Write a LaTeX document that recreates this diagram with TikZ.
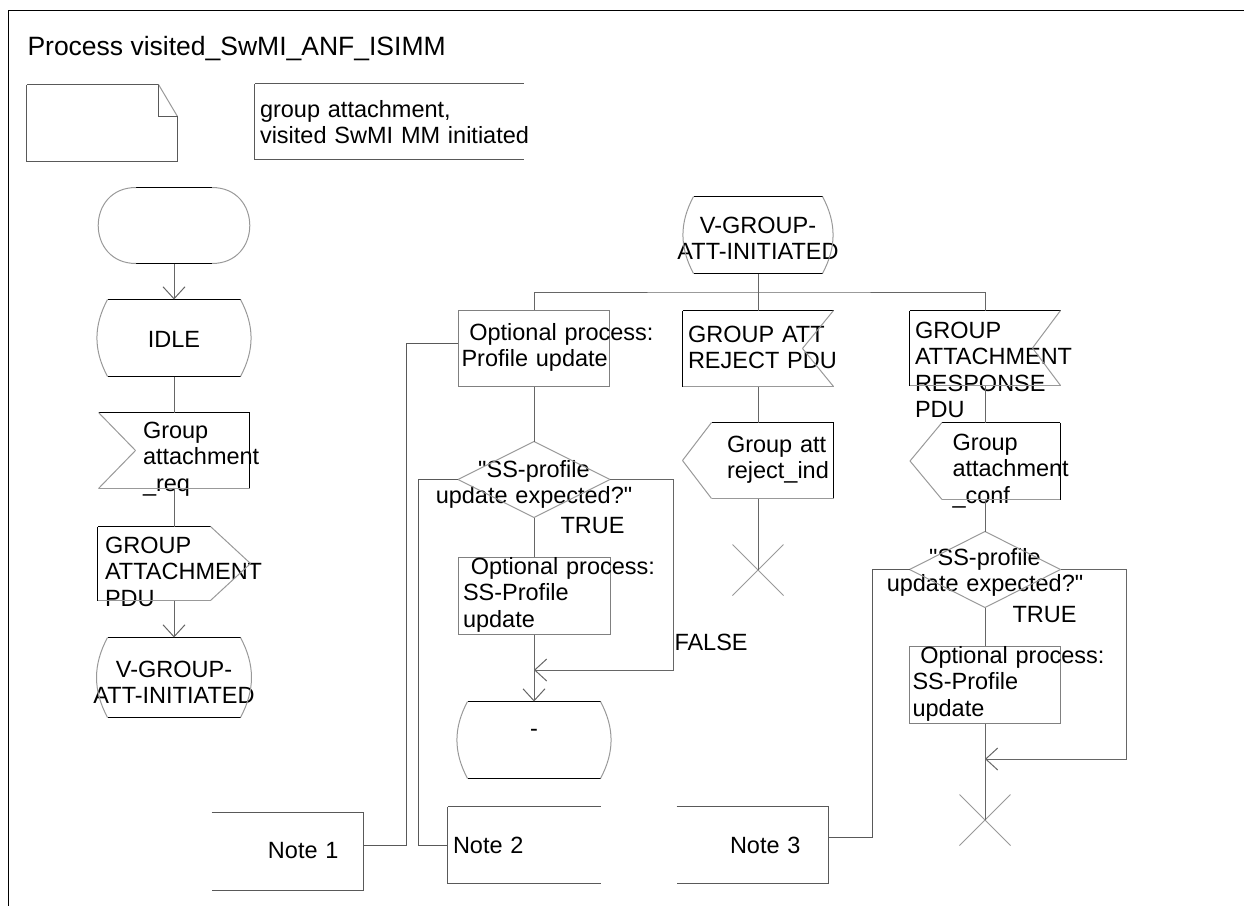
\documentclass[tikz,border=0pt]{standalone}
\usepackage{fontspec}
\setmainfont{Liberation Sans}
\usetikzlibrary{arrows.meta}

\begin{document}
\begin{tikzpicture}[
  x=0.5pt, y=-0.5pt,
  line width=0.5pt,
  font=\fontsize{11.75}{13.25}\selectfont,
  outline/.style={draw=black},
  soft/.style={draw=black!40},
  comm/.style={draw=black!65},
  conn/.style={draw=black!60},
  arrow/.style={conn, -{Straight Barb[length=6pt, width=11pt]}},
  lbl/.style={anchor=base west, inner sep=0pt},
  sym/.style={rectangle, inner sep=0pt, text width=#1},
  lefttext/.style={align=left, execute at begin node={\leftskip=#1\rightskip=-3cm plus 1fil\relax}},
  midtext/.style={align=center, execute at begin node={\leftskip=-3cm plus 1fil\rightskip=-3cm plus 1fil\relax}},
  startsym/.style={rectangle, inner sep=0pt, minimum width=37.5pt, minimum height=37.5pt, append after command={
    (\tikzlastnode.north west) edge[outline] (\tikzlastnode.north east)
    (\tikzlastnode.south west) edge[outline] (\tikzlastnode.south east)
    (\tikzlastnode.north west) edge[soft, bend right=90, looseness=1.7] (\tikzlastnode.south west)
    (\tikzlastnode.north east) edge[soft, bend left=90, looseness=1.7] (\tikzlastnode.south east)}},
  state/.style={midtext, append after command={
    (\tikzlastnode.north west) edge[outline] (\tikzlastnode.north east)
    (\tikzlastnode.south west) edge[outline] (\tikzlastnode.south east)
    (\tikzlastnode.north west) edge[soft, bend right=28] (\tikzlastnode.south west)
    (\tikzlastnode.north east) edge[soft, bend left=28] (\tikzlastnode.south east)}},
  inputl/.style={append after command={
    (\tikzlastnode.north west) edge[outline] (\tikzlastnode.north east)
    (\tikzlastnode.north east) edge[outline] (\tikzlastnode.south east)
    (\tikzlastnode.south east) edge[soft] (\tikzlastnode.south west)
    (\tikzlastnode.north west) edge[soft] ([xshift=#1]\tikzlastnode.west)
    ([xshift=#1]\tikzlastnode.west) edge[soft] (\tikzlastnode.south west)}},
  inputr/.style={append after command={
    (\tikzlastnode.north west) edge[outline] (\tikzlastnode.north east)
    (\tikzlastnode.north east) edge[soft] ([xshift=-#1]\tikzlastnode.east)
    ([xshift=-#1]\tikzlastnode.east) edge[soft] (\tikzlastnode.south east)
    (\tikzlastnode.south east) edge[soft] (\tikzlastnode.south west)
    (\tikzlastnode.south west) edge[outline] (\tikzlastnode.north west)}},
  outputr/.style={append after command={
    (\tikzlastnode.north west) edge[outline] ([xshift=-#1]\tikzlastnode.north east)
    ([xshift=-#1]\tikzlastnode.north east) edge[soft] (\tikzlastnode.east)
    (\tikzlastnode.east) edge[soft] ([xshift=-#1]\tikzlastnode.south east)
    ([xshift=-#1]\tikzlastnode.south east) edge[soft] (\tikzlastnode.south west)
    (\tikzlastnode.south west) edge[outline] (\tikzlastnode.north west)}},
  outputl/.style={append after command={
    ([xshift=#1]\tikzlastnode.north west) edge[outline] (\tikzlastnode.north east)
    (\tikzlastnode.north east) edge[outline] (\tikzlastnode.south east)
    (\tikzlastnode.south east) edge[soft] ([xshift=#1]\tikzlastnode.south west)
    ([xshift=#1]\tikzlastnode.south west) edge[soft] (\tikzlastnode.west)
    (\tikzlastnode.west) edge[soft] ([xshift=#1]\tikzlastnode.north west)}},
  decision/.style={midtext, append after command={
    (\tikzlastnode.north) edge[soft] (\tikzlastnode.west)
    (\tikzlastnode.west) edge[soft] (\tikzlastnode.south)
    (\tikzlastnode.south) edge[soft] (\tikzlastnode.east)
    (\tikzlastnode.east) edge[soft] (\tikzlastnode.north)}},
  task/.style={draw=black!50},
  notel/.style={append after command={
    (\tikzlastnode.north west) edge[comm] (\tikzlastnode.north east)
    (\tikzlastnode.north east) edge[comm] (\tikzlastnode.south east)
    (\tikzlastnode.south east) edge[comm] (\tikzlastnode.south west)}},
  noter/.style={append after command={
    (\tikzlastnode.north east) edge[comm] (\tikzlastnode.north west)
    (\tikzlastnode.north west) edge[comm] (\tikzlastnode.south west)
    (\tikzlastnode.south west) edge[comm] (\tikzlastnode.south east)}},
  docsym/.style={rectangle, inner sep=0pt, minimum width=75pt, minimum height=38pt, append after command={
    (\tikzlastnode.north west) edge[comm] ([xshift=-9.5pt]\tikzlastnode.north east)
    ([xshift=-9.5pt]\tikzlastnode.north east) edge[soft] ([yshift=-16pt]\tikzlastnode.north east)
    ([yshift=-16pt]\tikzlastnode.north east) edge[comm] (\tikzlastnode.south east)
    (\tikzlastnode.south east) edge[comm] (\tikzlastnode.south west)
    (\tikzlastnode.south west) edge[comm] (\tikzlastnode.north west)
    ([xshift=-9.5pt]\tikzlastnode.north east) edge[comm] ([xshift=-9.5pt, yshift=-16pt]\tikzlastnode.north east)
    ([xshift=-9.5pt, yshift=-16pt]\tikzlastnode.north east) edge[comm] ([yshift=-16pt]\tikzlastnode.north east)}},
  stopx/.style={rectangle, inner sep=0pt, minimum size=25pt, append after command={
    (\tikzlastnode.north west) edge[soft] (\tikzlastnode.south east)
    (\tikzlastnode.north east) edge[soft] (\tikzlastnode.south west)}}
]
\useasboundingbox (0,0) rectangle (1244,906);
\draw[outline] (1250,10) -- (8,10) -- (8,915);

\node[lbl, font=\fontsize{13.25}{15}\selectfont] (title) at (27,55) {Process visited\_SwMI\_ANF\_ISIMM};
\node[docsym] (doc) at (102,123) {};
\node[noter, sym=134pt, lefttext=2.5pt, text height=16.5pt, text depth=21pt] (cmt) at (389,121.5) {group attachment,\\visited SwMI MM initiated};

\node[startsym] (start) at (174,225.5) {};
\node[state, sym=66pt, text height=23.5pt, text depth=14.5pt] (idle) at (174,338) {IDLE};
\node[inputl=18.5pt, sym=75pt, lefttext=22pt, text height=12.5pt, text depth=25pt] (req) at (174,450.5) {Group\\attachment\\\_req};
\node[outputr=20pt, sym=76pt, lefttext=3.5pt, text height=13pt, text depth=23.5pt] (pdu) at (174,563.5) {GROUP\\ATTACHMENT\\PDU};
\node[state, sym=66pt, text height=19.5pt, text depth=20pt] (vleft) at (174,677.5) {V-GROUP-\\ATT-INITIATED};

\node[state, sym=64pt, text height=18pt, text depth=20pt] (vmid) at (758,235) {V-GROUP-\\ATT-INITIATED};
\coordinate (fork) at (758,292);

\node[task, sym=75.5pt, lefttext=1.5pt, text height=15pt, text depth=23pt] (prof) at (534,348) {\ Optional process:\\Profile update};
\node[decision, sym=75.5pt, text height=17.5pt, text depth=20pt] (dec1) at (534,479.5) {\textquotedbl SS-profile\\update expected?\textquotedbl};
\node[task, sym=76pt, lefttext=2.5pt, text height=8.5pt, text depth=30pt] (ss1) at (534,595.5) {\ Optional process:\\SS-Profile\\update};
\coordinate (merge1) at (534,670);
\coordinate (back1) at (673,670);
\node[state, sym=66pt, text height=17pt, text depth=21pt] (dash) at (534,740) {-};

\node[inputr=15.5pt, sym=75pt, lefttext=2.5pt, text height=15.5pt, text depth=22pt] (rej) at (758,348.5) {GROUP ATT\\REJECT PDU};
\node[outputl=14.5pt, sym=75pt, lefttext=22pt, text height=14.5pt, text depth=23pt] (rejind) at (758,460.5) {Group att\\reject\_ind};
\node[stopx] (stop1) at (758,570) {};

\node[inputr=14pt, sym=75pt, lefttext=2.5pt, text height=13.5pt, text depth=23.5pt] (resp) at (985,348) {GROUP\\ATTACHMENT\\RESPONSE\\PDU};
\node[outputl=16pt, sym=74.5pt, lefttext=21pt, text height=13.5pt, text depth=24.5pt] (conf) at (985,461) {Group\\attachment\\\_conf};
\node[decision, sym=75pt, text height=16.5pt, text depth=21pt] (dec2) at (985,569.5) {\textquotedbl SS-profile\\update expected?\textquotedbl};
\node[task, sym=75.5pt, lefttext=1.5pt, text height=8.5pt, text depth=30pt] (ss2) at (985,684.5) {\ Optional process:\\SS-Profile\\update};
\coordinate (merge2) at (985,759);
\coordinate (back2) at (1126,759);
\node[stopx] (stop2) at (985,820) {};

\node[notel, sym=75.5pt, lefttext=28pt, text height=22.5pt, text depth=16pt] (note1) at (287.5,851.5) {Note 1};
\node[noter, sym=76pt, lefttext=2.5pt, text height=23pt, text depth=15pt] (note2) at (524,845) {Note 2};
\node[notel, sym=75.5pt, lefttext=26.5pt, text height=23pt, text depth=15pt] (note3) at (752.5,845) {Note 3};

\node[lbl] (true1) at (560,533) {TRUE};
\node[lbl] (false1) at (674,650) {FALSE};
\node[lbl] (true2) at (1012,622) {TRUE};

\draw[arrow] (start.south) -- (idle.north);
\draw[conn] (idle.south) -- (req.north);
\draw[conn] (req.south) -- (pdu.north);
\draw[arrow] (pdu.south) -- (vleft.north);

\draw[conn] (vmid.south) -- (fork);
\draw[conn] (prof.north) |- (fork) -| (resp.north);
\draw[conn] (fork) -- (rej.north);

\draw[conn] (prof.south) -- (dec1.north);
\draw[conn] (dec1.south) -- (ss1.north);
\draw[arrow] (ss1.south) -- (dash.north);
\draw[arrow] (dec1.east) -| (back1) -- (merge1);

\draw[conn] (rej.south) -- (rejind.north);
\draw[conn] (rejind.south) -- (stop1.center);

\draw[conn] (resp.south) -- (conf.north);
\draw[conn] (conf.south) -- (dec2.north);
\draw[conn] (dec2.south) -- (ss2.north);
\draw[conn] (ss2.south) -- (stop2.center);
\draw[arrow] (dec2.east) -| (back2) -- (merge2);

\draw[comm] ([yshift=3pt]note1.east) -- ++(21.5pt,0) |- ([yshift=2.5pt]prof.west);
\draw[comm] (note2.west) -- ++(-14.5pt,0) |- (dec1.west);
\draw[comm] ([yshift=4pt]note3.east) -- ++(22pt,0) |- (dec2.west);
\end{tikzpicture}
\end{document}
